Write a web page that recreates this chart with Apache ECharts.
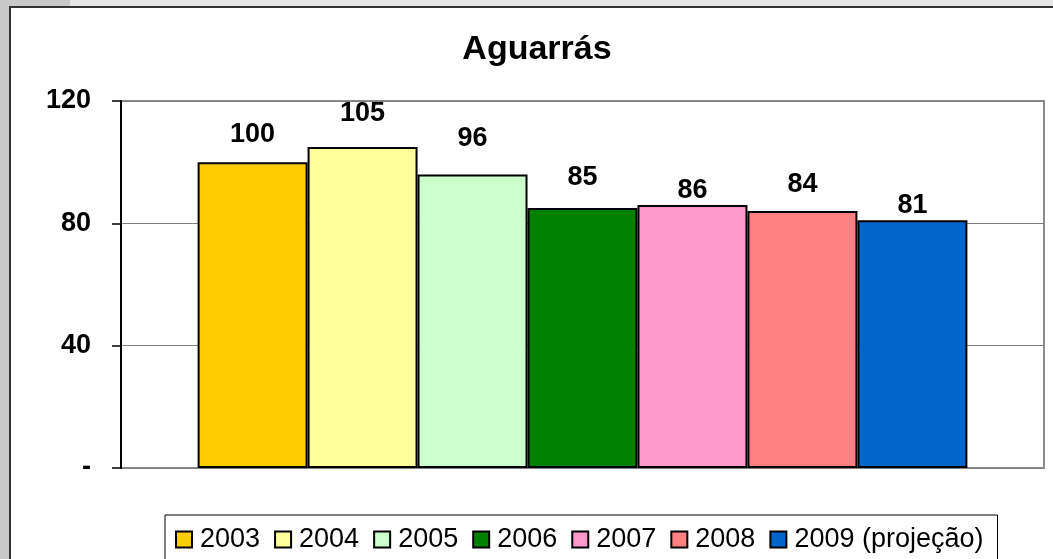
<!DOCTYPE html>
<html>
<head>
<meta charset="utf-8">
<script src="https://cdn.jsdelivr.net/npm/echarts@6/dist/echarts.min.js"></script>
<style>
html,body{margin:0;padding:0;background:#fff;}
#chart{width:1053px;height:559px;}
</style>
</head>
<body>
<div id="chart"></div>
<script>
// ---- data ----
const seriesNames = ['2003', '2004', '2005', '2006', '2007', '2008', '2009 (projeção)'];
const values = [100, 105, 96, 85, 86, 84, 81];
const yTicks = [0, 40, 80, 120];
const yTickLabels = ['-', '40', '80', '120'];
const chartTitle = 'Aguarrás';

// ---- styles ----
const colors = ['#FFCC00', '#FFFF99', '#CCFFCC', '#008000', '#FF99CC', '#FF8080', '#0066CC'];
const labelDistances = [14, 20, 22, 17, 1, 13, 1];
const FONT = 'Liberation Sans, Arial, sans-serif';

const chart = echarts.init(document.getElementById('chart'), null, {renderer: 'canvas'});

const series = seriesNames.map((name, i) => ({
  name: name,
  type: 'bar',
  barGap: '0%',
  barCategoryGap: '16.6%',
  data: [values[i]],
  itemStyle: {color: colors[i], borderColor: '#000', borderWidth: 2},
  label: {
    show: true,
    position: 'top',
    distance: labelDistances[i],
    color: '#000',
    fontFamily: FONT,
    fontWeight: 'bold',
    fontSize: 27
  },
  emphasis: {disabled: true},
  animation: false
}));

chart.setOption({
  animation: false,
  backgroundColor: '#fff',
  graphic: [
    {type: 'rect', shape: {x: 0, y: 0, width: 10, height: 559}, style: {fill: '#c8c8c8'}, z: -10},
    {type: 'rect', shape: {x: 0, y: 0, width: 70, height: 7}, style: {fill: '#c8c8c8'}, z: -10},
    {type: 'rect', shape: {x: 70, y: 0, width: 983, height: 7}, style: {fill: '#e4e4e4'}, z: -10},
    {type: 'line', shape: {x1: 9, y1: 7, x2: 1053, y2: 7}, style: {stroke: '#333', lineWidth: 2}, z: -5},
    {type: 'line', shape: {x1: 10, y1: 6, x2: 10, y2: 559}, style: {stroke: '#333', lineWidth: 2}, z: -5}
  ],
  title: {
    text: chartTitle,
    left: 537,
    top: 33,
    textAlign: 'center',
    padding: 0,
    textStyle: {fontFamily: FONT, fontWeight: 'bold', fontSize: 34, color: '#000'}
  },
  grid: {
    left: 121, right: 9, top: 101, bottom: 91,
    show: true, borderColor: '#8c8c8c', borderWidth: 2, backgroundColor: 'transparent'
  },
  legend: {
    left: 165,
    top: 515,
    orient: 'horizontal',
    icon: 'rect',
    itemWidth: 16,
    itemHeight: 16,
    itemGap: 14,
    borderColor: '#000',
    borderWidth: 1,
    padding: [11, 14, 16, 10],
    itemStyle: {borderColor: '#000', borderWidth: 2},
    textStyle: {fontFamily: FONT, fontSize: 27, color: '#000', padding: [0, 0, 0, 3]},
    data: seriesNames,
    selectedMode: false
  },
  xAxis: {
    type: 'category',
    data: [''],
    axisLine: {show: false},
    axisTick: {show: false},
    axisLabel: {show: false}
  },
  yAxis: {
    type: 'value',
    min: yTicks[0],
    max: yTicks[yTicks.length - 1],
    interval: yTicks[1] - yTicks[0],
    axisLine: {show: true, lineStyle: {color: '#000', width: 2}},
    axisTick: {show: true, inside: false, length: 9, lineStyle: {color: '#000', width: 1.5}},
    splitLine: {show: true, lineStyle: {color: '#808080', width: 1}},
    axisLabel: {
      margin: 30,
      fontFamily: FONT,
      fontWeight: 'bold',
      fontSize: 27,
      color: '#000',
      formatter: v => yTickLabels[yTicks.indexOf(v)]
    }
  },
  series: series
});
</script>
</body>
</html>
